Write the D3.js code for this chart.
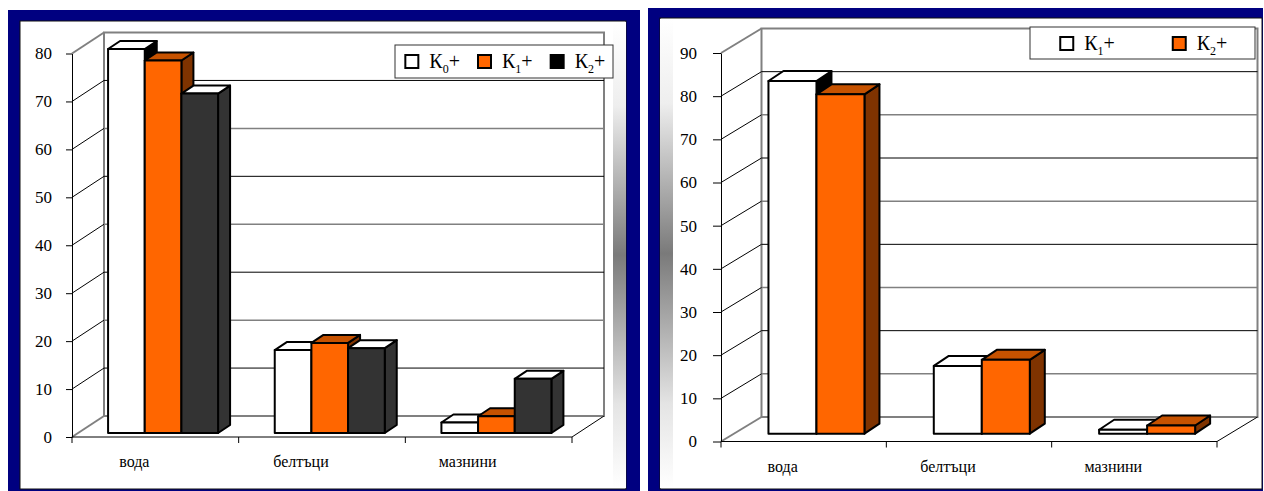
<html>
  <head>
	<meta charset="utf-8">
	<title>вода, белтъци, мазнини</title>
	<script src="https://d3js.org/d3.v7.min.js"></script>
	<style>
	  body { margin: 0; background: #fff; }
	  text { font-family: "Liberation Serif", "Times New Roman", serif; fill: #000; }
	</style>
  </head>
  <body>

  <svg width="1264" height="491"></svg>

	<script type="text/javascript">

    // данни
    var categories = ["вода", "белтъци", "мазнини"];

    var leftK0 = [80.1, 17.3, 2.2];
    var leftK1 = [77.7, 18.8, 3.5];
    var leftK2 = [70.8, 17.7, 11.3];
    var leftTicks = [0, 10, 20, 30, 40, 50, 60, 70, 80];

    var rightK1 = [81.7, 15.7, 0.9];
    var rightK2 = [78.6, 17.1, 1.9];
    var rightTicks = [0, 10, 20, 30, 40, 50, 60, 70, 80, 90];

    var svg = d3.select("svg");
    var defs = svg.append("defs");

    // сив преход по ръба на панела
    var grad = defs.append("linearGradient").attr("id", "strip")
      .attr("x1", 0).attr("y1", 0).attr("x2", 0).attr("y2", 1);
    grad.append("stop").attr("offset", "0%").attr("stop-color", "#ffffff");
    grad.append("stop").attr("offset", "18%").attr("stop-color", "#eeeeee");
    grad.append("stop").attr("offset", "50%").attr("stop-color", "#7a7a7a");
    grad.append("stop").attr("offset", "82%").attr("stop-color", "#e4e4e4");
    grad.append("stop").attr("offset", "100%").attr("stop-color", "#ffffff");

    function panel(x, y, w, h, ix, iy, iw, ih, sx) {
        svg.append("rect").attr("x", x).attr("y", y).attr("width", w).attr("height", h)
          .attr("fill", "#000080");
        svg.append("rect").attr("x", ix).attr("y", iy).attr("width", iw).attr("height", ih)
          .attr("fill", "#fff").attr("stroke", "#111").attr("stroke-width", 1);
        svg.append("rect").attr("x", sx).attr("y", iy + 1).attr("width", 13).attr("height", ih - 2)
          .attr("fill", "url(#strip)");
    }

    panel(8, 10, 632, 481, 20, 21, 606, 468, 613);
    panel(648, 8, 615, 483, 660, 18, 602, 471, 660);

    function drawChart(cfg) {
        var g = svg.append("g");
        var x = d3.scaleBand().domain(categories).range([cfg.left, cfg.right]);
        var y = d3.scaleLinear().domain([0, cfg.max]).range([cfg.bottom, cfg.top]);
        var dx = cfg.dx, dy = cfg.dy;
        var backL = cfg.left + dx, backR = cfg.right + dx;

        // задна стена
        g.append("rect")
          .attr("x", backL).attr("y", y(cfg.max) + dy)
          .attr("width", backR - backL).attr("height", y(0) - y(cfg.max))
          .attr("fill", "#fff").attr("stroke", "#808080").attr("stroke-width", 2);

        // линии на мрежата
        g.selectAll(".grid").data(cfg.ticks.filter(t => t > 0 && t < cfg.max)).join("line")
          .attr("x1", backL).attr("x2", backR)
          .attr("y1", t => y(t) + dy).attr("y2", t => y(t) + dy)
          .attr("stroke", (t, i) => (i % 2 == cfg.gridOdd) ? "#000" : "#808080")
          .attr("stroke-width", (t, i) => (i % 2 == cfg.gridOdd) ? 1 : 1.5);

        // странична стена
        g.selectAll(".side").data(cfg.ticks).join("line")
          .attr("x1", cfg.left).attr("x2", backL)
          .attr("y1", t => y(t)).attr("y2", t => y(t) + dy)
          .attr("stroke", t => (t == 0 || t == cfg.max) ? "#808080" : "#000")
          .attr("stroke-width", t => (t == 0 || t == cfg.max) ? 2 : 1);

        // ос Y
        var eixoY = d3.axisLeft(y).tickValues(cfg.ticks).tickSize(cfg.tick).tickSizeOuter(0)
          .tickPadding(cfg.pad);
        var gy = g.append("g").attr("transform", "translate(" + cfg.left + ",0)").call(eixoY);
        gy.attr("font-family", null).attr("font-size", null);
        gy.select(".domain").attr("stroke", "#000");
        gy.selectAll("line").attr("stroke", "#000");
        gy.selectAll("text").attr("font-size", 17);

        // под
        var bounds = categories.map(c => x(c)).concat([cfg.right]);
        g.append("line").attr("x1", cfg.left).attr("x2", cfg.right)
          .attr("y1", y(0)).attr("y2", y(0)).attr("stroke", "#000");
        g.selectAll(".xt").data(bounds).join("line")
          .attr("x1", d => d).attr("x2", d => d)
          .attr("y1", y(0)).attr("y2", y(0) + 6).attr("stroke", "#000");
        g.append("line").attr("x1", cfg.right).attr("x2", backR)
          .attr("y1", y(0)).attr("y2", y(0) + dy).attr("stroke", "#000");

        g.selectAll(".cat").data(categories).join("text")
          .attr("x", c => x(c) + x.bandwidth() / 2 + cfg.labelShift)
          .attr("y", y(0) + 30)
          .attr("text-anchor", "middle").attr("font-size", 16)
          .text(c => c);

        // стълбове
        var xs = d3.scaleBand().domain(d3.range(cfg.series.length)).range(cfg.inner);
        var zx = dx * cfg.barZ, zy = dy * cfg.barZ;
        var bx = cfg.bdx, by = cfg.bdy;
        var w = xs.bandwidth();

        categories.forEach(function(c, ci) {
            cfg.series.forEach(function(s, si) {
                var v = s.values[ci];
                var x0 = x(c) + xs(si) + zx;
                var yb = y(0) + zy, yt = y(v) + zy;
                var bar = g.append("g").attr("stroke", "#000").attr("stroke-width", 2)
                  .attr("stroke-linejoin", "round");
                bar.append("polygon")
                  .attr("points", [[x0 + w, yt], [x0 + w + bx, yt + by], [x0 + w + bx, yb + by], [x0 + w, yb]].join(" "))
                  .attr("fill", s.side);
                bar.append("polygon")
                  .attr("points", [[x0, yt], [x0 + bx, yt + by], [x0 + w + bx, yt + by], [x0 + w, yt]].join(" "))
                  .attr("fill", s.top);
                bar.append("rect").attr("x", x0).attr("y", yt)
                  .attr("width", w).attr("height", yb - yt).attr("fill", s.front);
            });
        });

        // легенда
        var lb = cfg.legend;
        var lg = g.append("g");
        lg.append("rect").attr("x", lb.x).attr("y", lb.y).attr("width", lb.w).attr("height", lb.h)
          .attr("fill", "#fff").attr("stroke", "#333").attr("stroke-width", 1);
        var slot = lb.w / cfg.series.length;
        cfg.series.forEach(function(s, si) {
            var ix = lb.x + (si + 0.5) * slot - 26;
            lg.append("rect").attr("x", ix).attr("y", lb.y + 10).attr("width", 13).attr("height", 13)
              .attr("fill", s.swatch).attr("stroke", "#000").attr("stroke-width", 2);
            var t = lg.append("text").attr("x", ix + 24).attr("y", lb.y + 23).attr("font-size", 20);
            t.append("tspan").text("К");
            t.append("tspan").attr("font-size", 12).attr("dy", 5).text(s.sub);
            t.append("tspan").attr("dy", -5).text("+");
        });
    }

    var white = { front: "#ffffff", top: "#ffffff", side: "#000000", swatch: "#ffffff" };
    var orange = { front: "#ff6600", top: "#c65200", side: "#7f3300", swatch: "#ff6600" };
    var dark = { front: "#333333", top: "#ffffff", side: "#333333", swatch: "#000000" };

    drawChart({
        left: 72, right: 572, top: 53.5, bottom: 437, max: 80, ticks: leftTicks,
        dx: 32, dy: -21, barZ: 0.19, bdx: 12, bdy: -8, inner: [30, 140],
        tick: 6, pad: 14, labelShift: -21, gridOdd: 0,
        legend: { x: 395, y: 45, w: 218, h: 33 },
        series: [
            Object.assign({ values: leftK0, sub: "0" }, white),
            Object.assign({ values: leftK1, sub: "1" }, orange),
            Object.assign({ values: leftK2, sub: "2" }, dark)
        ]
    });

    drawChart({
        left: 721, right: 1217, top: 53, bottom: 441.5, max: 90, ticks: rightTicks,
        dx: 40.5, dy: -24.5, barZ: 0.32, bdx: 15, bdy: -10, inner: [34.5, 130.5],
        tick: 8, pad: 16, labelShift: -21, gridOdd: 1,
        legend: { x: 1030, y: 27, w: 225, h: 32 },
        series: [
            Object.assign({ values: rightK1, sub: "1" }, white),
            Object.assign({ values: rightK2, sub: "2" }, orange)
        ]
    });

	</script>
  </body>

</html>
